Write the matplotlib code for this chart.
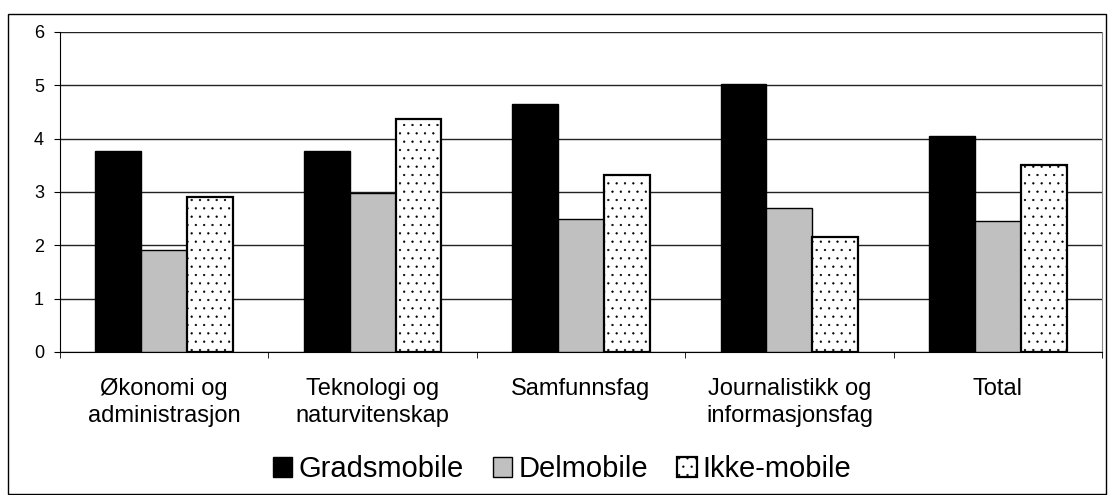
import matplotlib.pyplot as plt
import numpy as np
from matplotlib.patches import Rectangle

plt.rcParams['font.family'] = ['Liberation Sans', 'DejaVu Sans']
plt.rcParams['hatch.color'] = '#555555'
plt.rcParams['hatch.linewidth'] = 0.4

categories = ["Økonomi og\nadministrasjon", "Teknologi og\nnaturvitenskap", "Samfunnsfag",
              "Journalistikk og\ninformasjonsfag", "Total"]
gradsmobile = [3.77, 3.77, 4.65, 5.03, 4.05]
delmobile = [1.91, 2.98, 2.50, 2.70, 2.46]
ikke_mobile = [2.91, 4.36, 3.32, 2.16, 3.51]
series_names = ["Gradsmobile", "Delmobile", "Ikke-mobile"]

fig = plt.figure(figsize=(11.08, 4.95), dpi=100)
ax = fig.add_axes([60/1108, 1-352/495, 1042/1108, 320/495])

x = np.arange(len(categories))
w = 0.22
ax.bar(x - w, gradsmobile, w, color='black', edgecolor='black', linewidth=1, label=series_names[0], zorder=3)
ax.bar(x, delmobile, w, color='#c0c0c0', edgecolor='black', linewidth=1, label=series_names[1], zorder=3)
ax.bar(x + w, ikke_mobile, w, color='white', edgecolor='black', linewidth=1.6, hatch='..', label=series_names[2], zorder=3)

ax.set_xlim(-0.5, len(categories) - 0.5)
ax.set_ylim(0, 6)
ax.set_yticks(range(7))
ax.yaxis.grid(True, color='#222222', linewidth=1)
ax.set_axisbelow(True)
ax.tick_params(axis='y', labelsize=13, length=4.5, direction='out', pad=7)

ax.set_xticks(x)
ax.set_xticklabels(categories, fontsize=17, linespacing=1.28)
ax.tick_params(axis='x', which='major', length=0, pad=19)
ax.set_xticks(np.arange(len(categories) + 1) - 0.5, minor=True)
ax.tick_params(axis='x', which='minor', length=4.5, direction='out')

ax.spines['top'].set_visible(False)
ax.spines['right'].set_color('#888888')
ax.spines['left'].set_color('black')
ax.spines['bottom'].set_color('black')

fig.legend(loc='center', bbox_to_anchor=(562/1108, 1-469/495), ncol=3, frameon=False,
           fontsize=21, handlelength=0.68, handleheight=0.68, handletextpad=0.2, columnspacing=1.0)

fig.patches.append(Rectangle((8/1108, 1/495), 1098/1108, 480/495, transform=fig.transFigure,
                             fill=False, edgecolor='black', linewidth=1))

fig.savefig('out.png', dpi=100)
